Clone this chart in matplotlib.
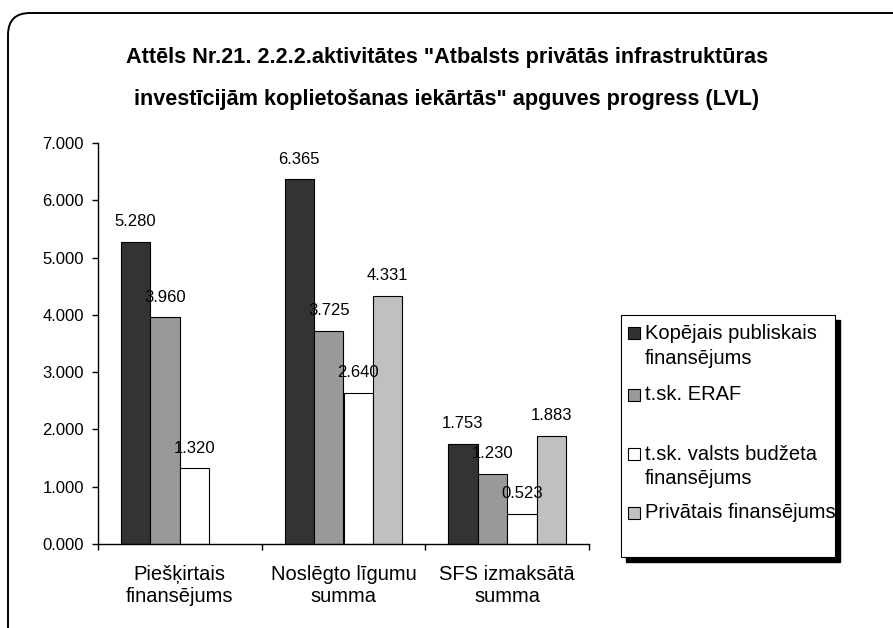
import numpy as np
import matplotlib
matplotlib.use('Agg')
import matplotlib.pyplot as plt
from matplotlib.patches import FancyBboxPatch, Rectangle
from matplotlib.transforms import IdentityTransform

plt.rcParams['font.family'] = ['Liberation Sans', 'DejaVu Sans']

# data
categories = ['Piešķirtais\nfinansējums', 'Noslēgto līgumu\nsumma', 'SFS izmaksātā\nsumma']
series = ['Kopējais publiskais\nfinansējums', 't.sk. ERAF',
          't.sk. valsts budžeta\nfinansējums', 'Privātais finansējums']
kopejais = [5.280, 6.365, 1.753]
eraf = [3.960, 3.725, 1.230]
valsts = [1.320, 2.640, 0.523]
privatais = [np.nan, 4.331, 1.883]
yticks = [0, 1, 2, 3, 4, 5, 6, 7]
title_lines = ['Attēls Nr.21. 2.2.2.aktivitātes "Atbalsts privātās infrastruktūras',
               'investīcijām koplietošanas iekārtās" apguves progress (LVL)']

colors = ['#333333', '#999999', '#ffffff', '#c0c0c0']

W, H = 893, 628
fig = plt.figure(figsize=(W / 100, H / 100), dpi=100)


def fx(px):
    return px / W


def fy(py):
    return 1 - py / H


# rounded outer frame, runs off the right and bottom edges
frame = FancyBboxPatch((8, -40), 960, H - 13 + 40,
                       boxstyle="round,pad=0,rounding_size=22",
                       transform=IdentityTransform(), facecolor='none',
                       edgecolor='black', linewidth=1.4, zorder=-1)
fig.patches.append(frame)

for i, line in enumerate(title_lines):
    fig.text(fx(447), fy(57 + 43 * i), line, ha='center', va='center',
             fontsize=15.6, fontweight='bold')

ax = fig.add_axes([fx(98), fy(544), fx(589 - 98), (544 - 143) / H])
ax.patch.set_alpha(0)

x = np.arange(len(categories))
w = 0.18
for i, vals in enumerate([kopejais, eraf, valsts, privatais]):
    pos = x + (i - 1.5) * w
    ax.bar(pos, vals, w, color=colors[i], edgecolor='black', linewidth=0.8)
    for p, v in zip(pos, vals):
        if np.isnan(v):
            continue
        ax.annotate('{:.3f}'.format(v), (p, v), xytext=(0, 14.5),
                    textcoords='offset points', ha='center', va='center',
                    fontsize=12)

ax.set_xlim(-0.5, 2.5)
ax.set_ylim(0, 7)
ax.set_yticks(yticks)
ax.set_yticklabels(['{:.3f}'.format(v) for v in yticks])
ax.set_xticks([-0.5, 0.5, 1.5, 2.5])
ax.set_xticklabels([])
ax.set_xticks(x, minor=True)
ax.set_xticklabels(categories, minor=True, fontsize=14.5)
ax.tick_params(axis='x', which='minor', length=0, pad=15)
ax.tick_params(axis='x', which='major', length=4, width=1)
ax.tick_params(axis='y', length=4, width=1, pad=6, labelsize=12)
for s in ['top', 'right']:
    ax.spines[s].set_visible(False)
for s in ['left', 'bottom']:
    ax.spines[s].set_linewidth(1)

# legend drawn by hand, Excel style with shadow
lx0, lx1, ly0, ly1 = 621, 835, 315, 557
fig.patches.append(Rectangle((lx0 + 5, H - ly1 - 5), lx1 - lx0, ly1 - ly0,
                             transform=IdentityTransform(), facecolor='black',
                             edgecolor='black', zorder=1))
fig.patches.append(Rectangle((lx0, H - ly1), lx1 - lx0, ly1 - ly0,
                             transform=IdentityTransform(), facecolor='white',
                             edgecolor='black', linewidth=0.8, zorder=2))
entry_y = [333, 395, 454, 513]
for name, c, ey in zip(series, colors, entry_y):
    fig.patches.append(Rectangle((628, H - ey - 6), 12, 12,
                                 transform=IdentityTransform(), facecolor=c,
                                 edgecolor='black', linewidth=0.8, zorder=3))
    for k, part in enumerate(name.split('\n')):
        fig.text(fx(645), fy(ey + 25 * k), part, ha='left', va='center',
                 fontsize=14.5, zorder=4)

plt.savefig('out.png', dpi=100)
